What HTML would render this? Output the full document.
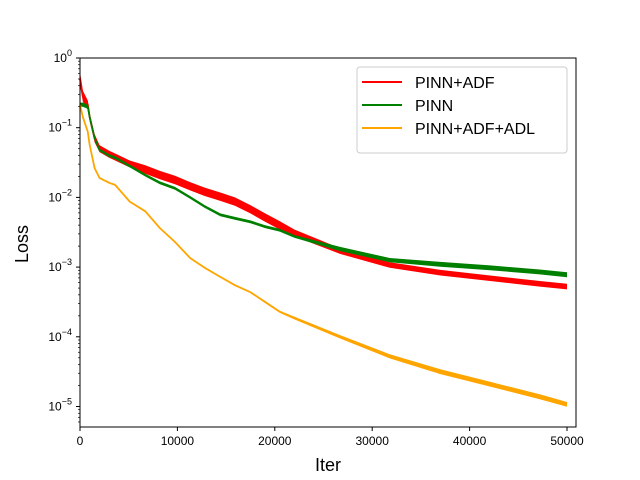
<!DOCTYPE html>
<html><head><meta charset="utf-8"><style>
body{margin:0;background:#fff;}
svg{display:block;font-family:"Liberation Sans","DejaVu Sans",sans-serif;}
</style></head><body>
<svg id="chart" width="640" height="480" viewBox="0 0 640 480">
<rect x="0" y="0" width="640" height="480" fill="#fff"/>
<g id="series"></g>
<g id="axes"></g>
<text x="328" y="471" font-size="18" text-anchor="middle">Iter</text>
<text transform="translate(28,244) rotate(-90)" font-size="18" text-anchor="middle">Loss</text>
<g>
<rect x="357" y="67" width="210" height="86" rx="3" fill="#fff" fill-opacity="0.8" stroke="#ccc"/>
<line x1="362" y1="82" x2="402" y2="82" stroke="red" stroke-width="2"/>
<text x="415" y="88" font-size="16">PINN+ADF</text>
<line x1="362" y1="105" x2="402" y2="105" stroke="green" stroke-width="2"/>
<text x="415" y="111" font-size="16">PINN</text>
<line x1="362" y1="128" x2="402" y2="128" stroke="orange" stroke-width="2"/>
<text x="415" y="134" font-size="16">PINN+ADF+ADL</text>
</g>
</svg>
<script>
const iters = [0,300,800,1000,1500,2000,3000,3600,5100,6700,8200,9750,11300,12800,14400,15900,17500,19000,20500,22000,26700,31800,37000,42100,47200,50000];
const adfLog = [-0.3,-0.55,-0.67,-0.85,-1.15,-1.3,-1.38,-1.42,-1.52,-1.6,-1.68,-1.75,-1.84,-1.92,-1.99,-2.06,-2.17,-2.29,-2.4,-2.51,-2.77,-2.97,-3.08,-3.16,-3.24,-3.28];
const adfSpread = [0.1,0.08,0.06,0.06,0.06,0.05,0.05,0.05,0.05,0.06,0.06,0.06,0.06,0.06,0.06,0.06,0.06,0.06,0.06,0.05,0.04,0.04,0.04,0.04,0.04,0.04];
const pinnLog = [-0.67,-0.67,-0.7,-0.85,-1.15,-1.32,-1.4,-1.43,-1.55,-1.68,-1.79,-1.87,-2.0,-2.13,-2.25,-2.3,-2.35,-2.42,-2.47,-2.56,-2.74,-2.9,-2.96,-3.01,-3.07,-3.11];
const pinnSpread = [0.03,0.03,0.03,0.02,0.02,0.02,0.02,0.02,0.02,0.02,0.02,0.02,0.02,0.02,0.02,0.02,0.02,0.02,0.02,0.02,0.03,0.03,0.035,0.035,0.035,0.035];
const adlLog = [-0.67,-0.85,-1.06,-1.25,-1.58,-1.72,-1.79,-1.82,-2.06,-2.2,-2.44,-2.64,-2.87,-3.01,-3.14,-3.26,-3.36,-3.5,-3.64,-3.73,-4.0,-4.28,-4.5,-4.68,-4.86,-4.97];
const adlSpread = [0.01,0.01,0.01,0.01,0.01,0.01,0.01,0.01,0.01,0.01,0.01,0.01,0.01,0.01,0.01,0.01,0.01,0.015,0.015,0.02,0.025,0.03,0.035,0.035,0.035,0.035];
const xTicks = [0,10000,20000,30000,40000,50000];
const yTicks = [0,-1,-2,-3,-4,-5];

const NS="http://www.w3.org/2000/svg";
const X0=80,X1=576,Y0=58,Y1=427;
const xs=v=>X0+(v/50000)*(567-X0);
const ys=l=>Y0+(-l)*69.7;
const sg=document.getElementById('series'), ag=document.getElementById('axes');
function mk(tag,attrs,parent){const e=document.createElementNS(NS,tag);for(const k in attrs)e.setAttribute(k,attrs[k]);parent.appendChild(e);return e;}

function drawSeries(vals,spread,color,name){
  let up=iters.map((x,i)=>xs(x).toFixed(1)+','+ys(vals[i]+spread[i]).toFixed(1));
  let dn=iters.map((x,i)=>xs(x).toFixed(1)+','+ys(vals[i]-spread[i]).toFixed(1)).reverse();
  const band=mk('polygon',{points:up.concat(dn).join(' '),fill:color},sg);
  
  
  const line=mk('polyline',{points:iters.map((x,i)=>xs(x).toFixed(1)+','+ys(vals[i]).toFixed(1)).join(' '),fill:'none',stroke:color,'stroke-width':1.8,'stroke-linejoin':'round'},sg);
  
  
}
drawSeries(adfLog,adfSpread,'red','pinn-adf');
drawSeries(pinnLog,pinnSpread,'green','pinn');
drawSeries(adlLog,adlSpread,'orange','pinn-adf-adl');

const frame=mk('rect',{x:X0,y:Y0,width:X1-X0,height:Y1-Y0,fill:'none',stroke:'#000','stroke-width':1},ag);


xTicks.forEach(t=>{
  const x=xs(t);
  const tk=mk('line',{x1:x,y1:Y1,x2:x,y2:Y1+4,stroke:'#000'},ag);
  
  
  const tx=mk('text',{x:x,y:Y1+18,'font-size':12,'text-anchor':'middle'},ag);
  tx.textContent=t;
  
  
});
yTicks.forEach(t=>{
  const y=ys(t);
  const tk=mk('line',{x1:X0-4,y1:y,x2:X0,y2:y,stroke:'#000'},ag);
  
  
  const tx=mk('text',{x:X0-8,y:y+4,'font-size':12,'text-anchor':'end'},ag);
  tx.innerHTML='10<tspan dy="-6" font-size="9">'+(t===0?'0':'\u2212'+(-t))+'</tspan>';
  
  
  for(let m=2;m<10;m++){
    const my=ys(t-1+Math.log10(m));
    if(my>Y1||my<Y0) continue;
    const mt=mk('line',{x1:X0-2,y1:my,x2:X0,y2:my,stroke:'#000','stroke-width':0.7},ag);
    
    
  }
});
</script>
</body></html>
